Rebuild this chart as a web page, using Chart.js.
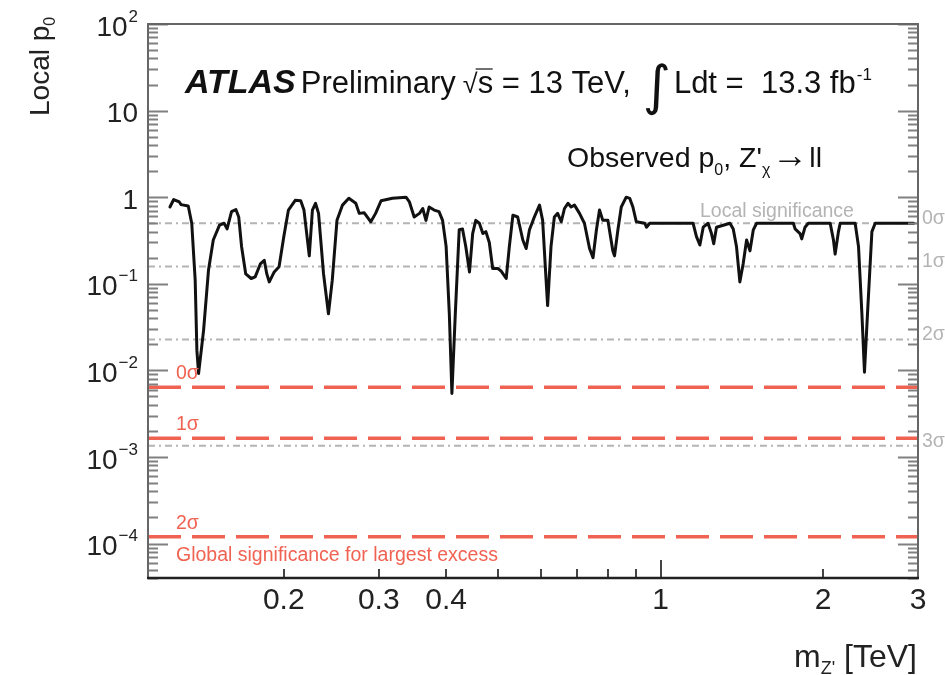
<!DOCTYPE html>
<html>
<head>
<meta charset="utf-8">
<script src="https://cdn.jsdelivr.net/npm/chart.js@4/dist/chart.umd.min.js"></script>
<style>
  html, body { margin: 0; padding: 0; background: #fff; }
</style>
</head>
<body>
<canvas id="p0chart" width="945" height="675"></canvas>
<script>
// observed local p0 scan vs dilepton mass (TeV)
const massTeV = [
  0.123, 0.125, 0.128, 0.129, 0.133, 0.135, 0.137, 0.138, 0.139, 0.142,
  0.145, 0.148, 0.152, 0.155, 0.157, 0.160, 0.163, 0.165, 0.167, 0.170,
  0.174, 0.177, 0.181, 0.184, 0.186, 0.188, 0.192, 0.196, 0.200, 0.204,
  0.210, 0.215, 0.218, 0.223, 0.226, 0.229, 0.232, 0.237, 0.242, 0.246,
  0.251, 0.257, 0.264, 0.272, 0.276, 0.282, 0.290, 0.296, 0.303, 0.318,
  0.337, 0.342, 0.349, 0.357, 0.362, 0.367, 0.372, 0.380, 0.388, 0.394,
  0.400, 0.4055, 0.410, 0.416, 0.423, 0.429, 0.435, 0.442, 0.448, 0.454,
  0.461, 0.468, 0.474, 0.481, 0.488, 0.499, 0.506, 0.517, 0.524, 0.532,
  0.543, 0.555, 0.563, 0.571, 0.583, 0.596, 0.604, 0.613, 0.617, 0.626,
  0.635, 0.644, 0.654, 0.663, 0.673, 0.682, 0.692, 0.707, 0.722, 0.738,
  0.749, 0.760, 0.770, 0.781, 0.798, 0.815, 0.821, 0.833, 0.845, 0.863,
  0.876, 0.888, 0.901, 0.934, 0.941, 0.954, 1.148, 1.165, 1.182, 1.199,
  1.224, 1.242, 1.254, 1.269, 1.344, 1.363, 1.382, 1.402, 1.422, 1.443,
  1.464, 1.485, 1.506, 1.762, 1.775, 1.813, 1.826, 1.852, 1.878, 2.062,
  2.091, 2.106, 2.136, 2.152, 2.294, 2.327, 2.361, 2.387, 2.418, 2.464,
  2.499, 2.944
];
const localP0 = [
  0.77, 0.94, 0.88, 0.82, 0.79, 0.50, 0.11, 0.017, 0.0092, 0.029,
  0.143, 0.32, 0.475, 0.50, 0.43, 0.68, 0.72, 0.59, 0.27, 0.13,
  0.115, 0.12, 0.17, 0.187, 0.13, 0.105, 0.137, 0.157, 0.35, 0.71,
  0.92, 0.91, 0.71, 0.21, 0.71, 0.85, 0.65, 0.13, 0.045, 0.11,
  0.54, 0.81, 0.97, 0.85, 0.65, 0.66, 0.52, 0.65, 0.91, 0.97,
  1.0, 0.88, 0.59, 0.65, 0.74, 0.54, 0.77, 0.71, 0.68, 0.54,
  0.27, 0.045, 0.0054, 0.045, 0.42, 0.43, 0.27, 0.137, 0.38, 0.54,
  0.50, 0.38, 0.40, 0.30, 0.15, 0.15, 0.14, 0.115, 0.27, 0.62,
  0.59, 0.32, 0.255, 0.42, 0.59, 0.81, 0.54, 0.11, 0.056, 0.27,
  0.59, 0.65, 0.52, 0.74, 0.85, 0.77, 0.81, 0.65, 0.50, 0.255,
  0.20, 0.42, 0.71, 0.54, 0.54, 0.24, 0.21, 0.42, 0.77, 1.0,
  0.97, 0.77, 0.52, 0.50, 0.45, 0.50, 0.50, 0.35, 0.28, 0.45,
  0.50, 0.38, 0.29, 0.45, 0.50, 0.43, 0.27, 0.105, 0.17, 0.32,
  0.24, 0.42, 0.50, 0.50, 0.43, 0.38, 0.33, 0.45, 0.50, 0.50,
  0.32, 0.22, 0.40, 0.50, 0.50, 0.27, 0.045, 0.0095, 0.045, 0.40,
  0.50, 0.50
];

// local significance levels (p0 for 0..3 sigma)
const localSigmaP = [0.5, 0.1587, 0.02275, 0.00135];
const localSigmaLabels = ['0σ', '1σ', '2σ', '3σ'];
// global significance levels for the largest excess
const globalSigmaP = [0.0064, 0.00164, 0.00012];
const globalSigmaLabels = ['0σ', '1σ', '2σ'];

const xRange = [0.112, 3];
const yRange = [4e-5, 100];
const xLabelTicks = [0.2, 0.3, 0.4, 1, 2, 3];
const xUnlabelledTicks = [0.5, 0.6, 0.7, 0.8, 0.9];
const yLabelExponents = [2, 1, 0, -1, -2, -3, -4];

const FONT = '"Liberation Sans", Arial, Helvetica, sans-serif';
const RED = 'rgb(240,98,82)';
const GREY = '#b4b4b4';

function runsWidth(ctx, runs) {
  let w = 0;
  runs.forEach(r => { ctx.font = r.font; w += ctx.measureText(r.t).width + (r.gap || 0); });
  return w;
}
function drawRuns(ctx, x, y, runs, align) {
  let cx = align === 'right' ? x - runsWidth(ctx, runs) : x;
  const pos = [];
  runs.forEach(r => {
    ctx.font = r.font;
    ctx.fillText(r.t, cx, y + (r.dy || 0));
    const w = ctx.measureText(r.t).width;
    pos.push([cx, w]);
    cx += w + (r.gap || 0);
  });
  return pos;
}

const hLine = (p) => [{ x: xRange[0], y: p }, { x: xRange[1], y: p }];

const datasets = [{
  data: massTeV.map((m, i) => ({ x: m, y: localP0[i] })),
  borderColor: '#111',
  borderWidth: 3,
  borderJoinStyle: 'round',
  borderCapStyle: 'round',
  pointRadius: 0,
  tension: 0
}];
globalSigmaP.forEach(p => datasets.push({
  data: hLine(p), borderColor: RED, borderWidth: 3.5, borderDash: [33, 11], pointRadius: 0
}));
localSigmaP.forEach(p => datasets.push({
  data: hLine(p), borderColor: GREY, borderWidth: 2, borderDash: [7, 4, 2, 4], pointRadius: 0
}));

const decorations = {
  id: 'decorations',
  afterDatasetsDraw(chart) {
    const { ctx, chartArea: a, scales: { x, y } } = chart;
    ctx.save();

    // inner ticks on left / right
    ctx.strokeStyle = '#808080';
    ctx.lineWidth = 2;
    for (let e = -5; e <= 2; e++) {
      for (let k = 1; k <= 9; k++) {
        const v = k * Math.pow(10, e);
        if (v < yRange[0] || v > yRange[1]) continue;
        const py = Math.round(y.getPixelForValue(v)) + 0.5;
        const len = k === 1 ? 20 : 10;
        ctx.beginPath();
        ctx.moveTo(a.left, py); ctx.lineTo(a.left + len, py);
        ctx.moveTo(a.right, py); ctx.lineTo(a.right - len, py);
        ctx.stroke();
      }
    }
    // inner ticks along the bottom
    ctx.strokeStyle = '#444';
    xLabelTicks.concat(xUnlabelledTicks).forEach(v => {
      const px = Math.round(x.getPixelForValue(v));
      const len = v === 1 ? 18 : 9;
      ctx.beginPath();
      ctx.moveTo(px, a.bottom); ctx.lineTo(px, a.bottom - len);
      ctx.stroke();
    });

    // frame
    ctx.strokeStyle = '#666';
    ctx.lineWidth = 2;
    ctx.beginPath();
    ctx.moveTo(a.left, a.bottom); ctx.lineTo(a.left, a.top);
    ctx.lineTo(a.right, a.top); ctx.lineTo(a.right, a.bottom);
    ctx.stroke();
    ctx.strokeStyle = '#222';
    ctx.lineWidth = 2.5;
    ctx.beginPath();
    ctx.moveTo(a.left - 1, a.bottom); ctx.lineTo(a.right + 1, a.bottom);
    ctx.stroke();

    // y tick labels
    ctx.fillStyle = '#222';
    ctx.textBaseline = 'middle';
    yLabelExponents.forEach(e => {
      const py = y.getPixelForValue(Math.pow(10, e));
      let runs;
      if (e === 1) runs = [{ t: '10', font: '28px ' + FONT }];
      else if (e === 0) runs = [{ t: '1', font: '28px ' + FONT }];
      else runs = [
        { t: '10', font: '28px ' + FONT, gap: 1 },
        { t: e < 0 ? '\u2212' + (-e) : String(e), font: '17px ' + FONT, dy: -11 }
      ];
      drawRuns(ctx, 138, py + 4, runs, 'right');
    });

    // x tick labels
    ctx.textAlign = 'center';
    ctx.font = '30px ' + FONT;
    xLabelTicks.forEach(v => {
      ctx.fillText(String(v), x.getPixelForValue(v), 601);
    });
    ctx.textAlign = 'left';

    // axis titles
    ctx.textBaseline = 'alphabetic';
    drawRuns(ctx, 917, 667, [
      { t: 'm', font: '32px ' + FONT },
      { t: "Z'", font: '18px ' + FONT, dy: 7, gap: 9 },
      { t: '[TeV]', font: '32px ' + FONT }
    ], 'right');

    ctx.save();
    ctx.translate(49, 116);
    ctx.rotate(-Math.PI / 2);
    drawRuns(ctx, 0, 0, [
      { t: 'Local p', font: '28px ' + FONT },
      { t: '0', font: '16px ' + FONT, dy: 6 }
    ]);
    ctx.restore();

    // experiment / dataset label
    ctx.fillStyle = '#111';
    const pos = drawRuns(ctx, 185, 93, [
      { t: 'ATLAS', font: 'italic bold 34px ' + FONT, gap: 5 },
      { t: 'Preliminary', font: '31px ' + FONT, gap: 7 },
      { t: '\u221A', font: '27px ' + FONT },
      { t: 's = 13 TeV,', font: '31px ' + FONT, gap: 12 },
      { t: '\u222B', font: '54px "DejaVu Sans", ' + FONT, dy: 11, gap: 3 },
      { t: 'Ldt =  13.3 fb', font: '31px ' + FONT, gap: 1 },
      { t: '-1', font: '17px ' + FONT, dy: -13 }
    ]);
    // overline of the square root
    const sx = pos[3][0];
    ctx.strokeStyle = '#111';
    ctx.lineWidth = 1.2;
    ctx.beginPath();
    ctx.moveTo(sx - 2, 69); ctx.lineTo(sx + 15, 69);
    ctx.stroke();

    drawRuns(ctx, 567, 167, [
      { t: 'Observed p', font: '28.5px ' + FONT },
      { t: '0', font: '16px ' + FONT, dy: 8 },
      { t: ", Z'", font: '28.5px ' + FONT },
      { t: '\u03C7', font: '16px ' + FONT, dy: 8, gap: 2 },
      { t: '\u2192', font: '36px ' + FONT, gap: 1 },
      { t: 'll', font: '28.5px ' + FONT }
    ]);

    // local significance labels
    ctx.fillStyle = GREY;
    ctx.font = '19.5px ' + FONT;
    ctx.fillText('Local significance', 700, 217);
    localSigmaP.forEach((p, i) => {
      ctx.fillText(localSigmaLabels[i], 922, y.getPixelForValue(p) + 1);
    });

    // global significance labels
    ctx.fillStyle = RED;
    ctx.font = '19.5px ' + FONT;
    globalSigmaP.forEach((p, i) => {
      ctx.fillText(globalSigmaLabels[i], 176, y.getPixelForValue(p) - 8);
    });
    ctx.fillText('Global significance for largest excess', 176, 561);

    ctx.restore();
  }
};

new Chart(document.getElementById('p0chart'), {
  type: 'line',
  data: { datasets },
  options: {
    responsive: false,
    animation: false,
    devicePixelRatio: 1,
    layout: { padding: { left: 148, top: 24, right: 27, bottom: 97 } },
    plugins: { legend: { display: false }, tooltip: { enabled: false } },
    scales: {
      x: { type: 'logarithmic', min: xRange[0], max: xRange[1], display: false },
      y: { type: 'logarithmic', min: yRange[0], max: yRange[1], display: false }
    }
  },
  plugins: [decorations]
});
</script>
</body>
</html>
